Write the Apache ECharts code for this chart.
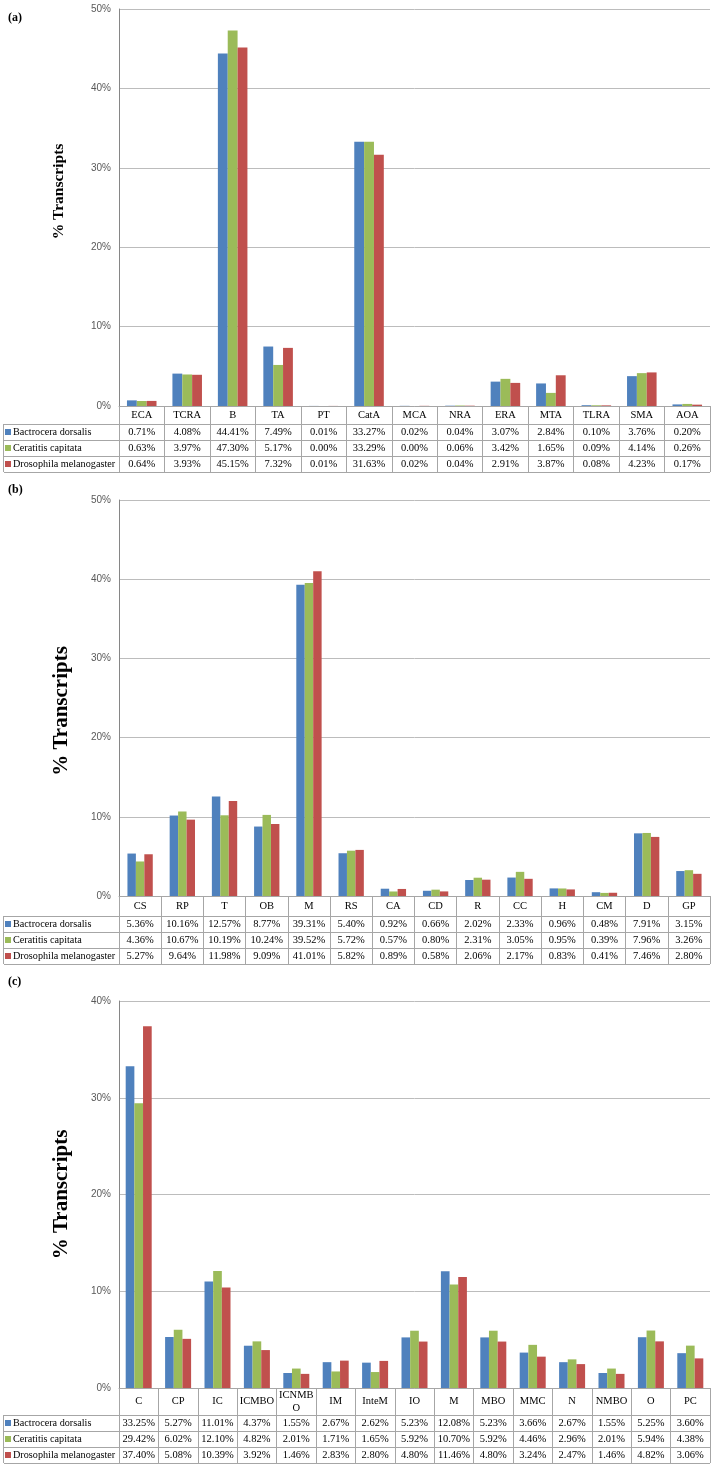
<!DOCTYPE html>
<html><head><meta charset="utf-8">
<script src="https://cdn.jsdelivr.net/npm/echarts@6/dist/echarts.min.js"></script>
<style>html,body{margin:0;padding:0;background:#fff}#c{width:717px;height:1470px}</style>
</head><body><div id="c"></div>
<script>
const seriesNames = ['Bactrocera dorsalis', 'Ceratitis capitata', 'Drosophila melanogaster'];
const colors = ['#4F81BD', '#9BBB59', '#C0504D'];

const catsA = ['ECA','TCRA','B','TA','PT','CatA','MCA','NRA','ERA','MTA','TLRA','SMA','AOA'];
const bdA = [0.71,4.08,44.41,7.49,0.01,33.27,0.02,0.04,3.07,2.84,0.10,3.76,0.20];
const ccA = [0.63,3.97,47.30,5.17,0.00,33.29,0.00,0.06,3.42,1.65,0.09,4.14,0.26];
const dmA = [0.64,3.93,45.15,7.32,0.01,31.63,0.02,0.04,2.91,3.87,0.08,4.23,0.17];

const catsB = ['CS','RP','T','OB','M','RS','CA','CD','R','CC','H','CM','D','GP'];
const bdB = [5.36,10.16,12.57,8.77,39.31,5.40,0.92,0.66,2.02,2.33,0.96,0.48,7.91,3.15];
const ccB = [4.36,10.67,10.19,10.24,39.52,5.72,0.57,0.80,2.31,3.05,0.95,0.39,7.96,3.26];
const dmB = [5.27,9.64,11.98,9.09,41.01,5.82,0.89,0.58,2.06,2.17,0.83,0.41,7.46,2.80];

const catsC = ['C','CP','IC','ICMBO','ICNMBO','IM','InteM','IO','M','MBO','MMC','N','NMBO','O','PC'];
const bdC = [33.25,5.27,11.01,4.37,1.55,2.67,2.62,5.23,12.08,5.23,3.66,2.67,1.55,5.25,3.60];
const ccC = [29.42,6.02,12.10,4.82,2.01,1.71,1.65,5.92,10.70,5.92,4.46,2.96,2.01,5.94,4.38];
const dmC = [37.40,5.08,10.39,3.92,1.46,2.83,2.80,4.80,11.46,4.80,3.24,2.47,1.46,4.82,3.06];

const yTicksA = {max: 50, interval: 10};
const yTicksB = {max: 50, interval: 10};
const yTicksC = {max: 40, interval: 10};

const W = 717, LEFT = 119, RIGHT = 7, TL = 4, ROWH = 16;
const SERIF = '"Liberation Serif","Times New Roman",serif';
const SANS = '"Liberation Sans",Arial,sans-serif';
const GRIDC = '#bcbcbc', BORDER = '#a6a6a6';

const panels = [
  {label:'(a)', labelTop:12, top:9, base:406, catH:18, cats:catsA, data:[bdA,ccA,dmA], y:yTicksA, nameSize:15.5, nameGap:52, namePad:[0,0,0,32], gap:'35%'},
  {label:'(b)', labelTop:484, top:500, base:896, catH:20, cats:catsB, data:[bdB,ccB,dmB], y:yTicksB, nameSize:21, nameGap:47, namePad:[0,26,0,0], gap:'40%'},
  {label:'(c)', labelTop:976, top:1001, base:1388, catH:27, cats:catsC, data:[bdC,ccC,dmC], y:yTicksC, nameSize:21, nameGap:47, namePad:[0,0,0,0], gap:'34%'}
];

const grid = [], xAxis = [], yAxis = [], series = [], legend = [], graphic = [];
panels.forEach((p, pi) => {
  const tableH = p.catH + 3 * ROWH;
  grid.push({left: LEFT, right: RIGHT, top: p.top, height: p.base - p.top});
  xAxis.push({
    type: 'category', gridIndex: pi, data: p.cats,
    axisLine: {show: true, lineStyle: {color: BORDER, width: 1}},
    axisTick: {show: true, length: tableH, interval: 0, lineStyle: {color: BORDER, width: 1}},
    axisLabel: {
      interval: 0, margin: 0, hideOverlap: false,
      formatter: (val) => {
        let head;
        if (val.length > 5 && p.catH > 20) {
          head = '{h|' + val.slice(0, 5) + '}\n{h|' + val.slice(5) + '}';
        } else {
          head = '{c|' + val + '}';
        }
        const i = p.cats.indexOf(val);
        return head + '\n' + p.data.map(arr => '{v|' + arr[i].toFixed(2) + '%}').join('\n');
      },
      rich: {
        c: {fontFamily: SERIF, fontSize: 10.5, color: '#000', lineHeight: p.catH},
        h: {fontFamily: SERIF, fontSize: 10.5, color: '#000', lineHeight: p.catH / 2},
        v: {fontFamily: SERIF, fontSize: 10.5, color: '#000', lineHeight: ROWH}
      }
    }
  });
  yAxis.push({
    type: 'value', gridIndex: pi, min: 0, max: p.y.max, interval: p.y.interval,
    name: '% Transcripts', nameLocation: 'middle', nameGap: p.nameGap,
    nameTextStyle: {fontFamily: SERIF, fontWeight: 'bold', fontSize: p.nameSize, color: '#000', padding: p.namePad},
    axisLine: {show: true, lineStyle: {color: '#868686'}},
    axisTick: {show: false},
    axisLabel: {formatter: '{value}%', fontFamily: SANS, fontSize: 10, color: '#595959', margin: 8},
    splitLine: {show: true, lineStyle: {color: GRIDC, width: 1}}
  });
  p.data.forEach((arr, si) => {
    series.push({
      type: 'bar', name: seriesNames[si], xAxisIndex: pi, yAxisIndex: pi,
      data: arr, barGap: '0%', barCategoryGap: p.gap,
      itemStyle: {color: colors[si]}, silent: true
    });
  });
  const rowTop = p.base + p.catH;
  legend.push({
    data: seriesNames, orient: 'vertical', left: TL + 1, top: rowTop, padding: 0,
    itemGap: 0, itemWidth: 6, itemHeight: 6, icon: 'rect', selectedMode: false,
    textStyle: {fontFamily: SERIF, fontSize: 10.2, color: '#000', lineHeight: ROWH, padding: [0,0,0,-3]}
  });
  for (let r = 0; r <= 3; r++) {
    const y = rowTop + r * ROWH + 0.5;
    graphic.push({type: 'line', shape: {x1: TL, y1: y, x2: W - RIGHT, y2: y}, style: {stroke: BORDER, lineWidth: 1}, silent: true});
  }
  graphic.push({type: 'line', shape: {x1: TL - 0.5, y1: rowTop, x2: TL - 0.5, y2: rowTop + 3 * ROWH}, style: {stroke: BORDER, lineWidth: 1}, silent: true});
  graphic.push({type: 'text', left: 8, top: p.labelTop, style: {text: p.label, font: 'bold 12px ' + SERIF, fill: '#000'}});
});

const chart = echarts.init(document.getElementById('c'), null, {renderer: 'canvas'});
chart.setOption({animation: false, backgroundColor: '#fff', grid, xAxis, yAxis, series, legend, graphic});
</script></body></html>
